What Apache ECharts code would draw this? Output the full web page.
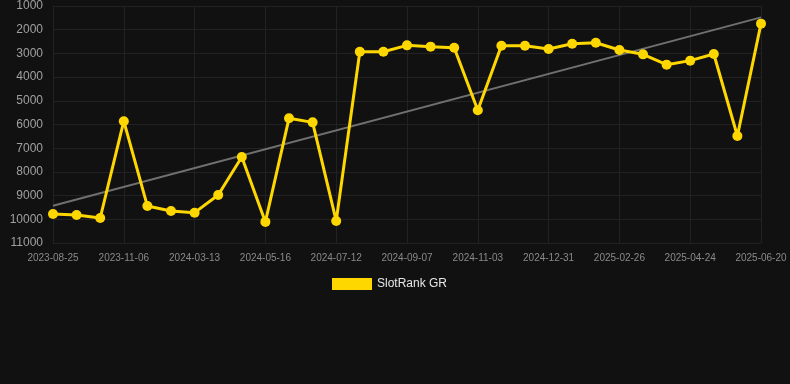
<!DOCTYPE html>
<html>
<head>
<meta charset="utf-8">
<script src="https://cdn.jsdelivr.net/npm/echarts@6/dist/echarts.min.js"></script>
<style>
  html, body { margin: 0; padding: 0; background: #111111; }
  #chart { width: 790px; height: 384px; }
</style>
</head>
<body>
<div id="chart"></div>
<script>
// categories (only every 3rd is shown on the axis)
var dates = [
    '2023-08-25', '2023-09-18', '2023-10-12', '2023-11-06', '2023-12-18', '2024-01-29',
    '2024-03-13', '2024-04-03', '2024-04-24', '2024-05-16', '2024-06-04', '2024-06-23',
    '2024-07-12', '2024-07-31', '2024-08-19', '2024-09-07', '2024-09-26', '2024-10-15',
    '2024-11-03', '2024-11-22', '2024-12-12', '2024-12-31', '2025-01-19', '2025-02-07',
    '2025-02-26', '2025-03-17', '2025-04-05', '2025-04-24', '2025-05-13', '2025-06-01',
    '2025-06-20'
];
var rankGR = [
    9780, 9820, 9945, 5860, 9440, 9650,
    9720, 8975, 7370, 10110, 5740, 5910,
    10070, 2930, 2930, 2660, 2715, 2760,
    5400, 2675, 2675, 2815, 2590, 2550,
    2855, 3040, 3475, 3305, 3025, 6485,
    1745
];
// trend line end points
var trendStart = 9430;
var trendEnd = 1480;

var myChart = echarts.init(document.getElementById('chart'));
var option = {
    backgroundColor: '#111111',
    animation: false,
    grid: {
        left: 53,
        right: 29,
        top: 6,
        bottom: 141
    },
    legend: {
        top: 273,
        left: 327,
        itemWidth: 40,
        itemHeight: 12,
        icon: 'rect',
        textStyle: { color: '#e6e6e6', fontSize: 12, fontFamily: 'Liberation Sans, Arial, sans-serif' },
        data: ['SlotRank GR']
    },
    xAxis: {
        type: 'category',
        data: dates,
        boundaryGap: false,
        axisLine: { show: false },
        axisTick: { show: false },
        axisLabel: {
            interval: 2,
            color: '#8a8a8a',
            fontSize: 10,
            margin: 10,
            fontFamily: 'Liberation Sans, Arial, sans-serif'
        },
        splitLine: {
            show: true,
            interval: 2,
            lineStyle: { color: '#222222', width: 1 }
        }
    },
    yAxis: {
        type: 'value',
        inverse: true,
        min: 1000,
        max: 11000,
        interval: 1000,
        axisLine: { show: false },
        axisTick: { show: false },
        axisLabel: {
            color: '#a0a0a0',
            fontSize: 12,
            margin: 10,
            fontFamily: 'Liberation Sans, Arial, sans-serif',
            formatter: function (v) { return String(v); }
        },
        splitLine: { lineStyle: { color: '#222222', width: 1 } }
    },
    series: [
        {
            name: 'SlotRank GR',
            type: 'line',
            data: rankGR,
            symbol: 'circle',
            symbolSize: 10,
            lineStyle: { color: '#FFD700', width: 3 },
            itemStyle: { color: '#FFD700' },
            z: 3,
            markLine: {
                silent: true,
                symbol: ['none', 'none'],
                label: { show: false },
                lineStyle: { color: '#707070', width: 2, type: 'solid' },
                data: [[
                    { coord: [dates[0], trendStart] },
                    { coord: [dates[dates.length - 1], trendEnd] }
                ]],
                z: 2
            }
        }
    ]
};
myChart.setOption(option, true);
</script>
</body>
</html>
